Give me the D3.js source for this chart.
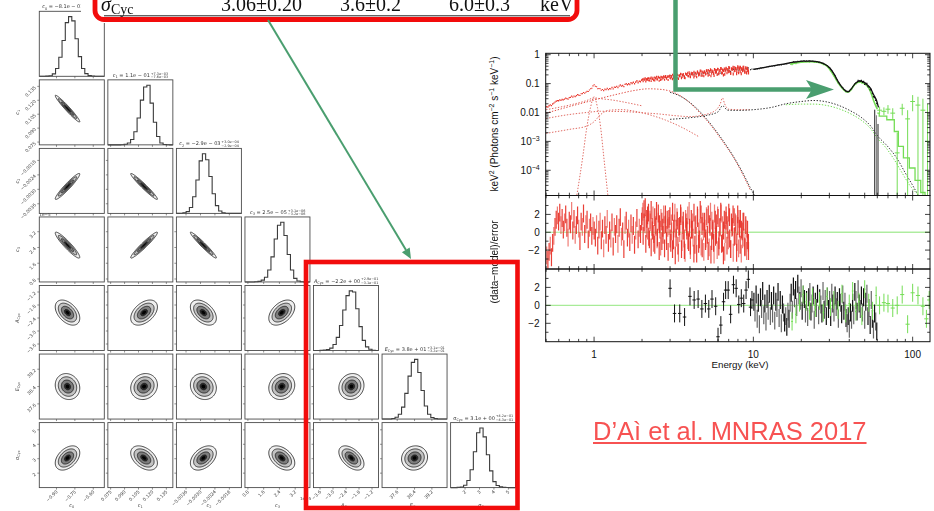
<!DOCTYPE html>
<html><head><meta charset="utf-8">
<script src="https://cdn.jsdelivr.net/npm/d3@7/dist/d3.min.js"></script>
<style>html,body{margin:0;padding:0;background:#fff;}svg{display:block;}</style>
</head><body>
<svg id="fig" width="934" height="511" xmlns="http://www.w3.org/2000/svg"></svg>
<script>
// ================= corner plot: posterior of continuum + cyclotron parameters =================
const parLabels  = [["c","0"],["c","1"],["c","2"],["c","3"],["A","Cyc"],["E","Cyc"],["σ","Cyc"]];
const parDomains = [[-1.04,-0.51],[0.072,0.142],[-0.0040,-0.0013],[0.65,3.95],[-3.9,-0.9],[36.9,39.9],[1.0,5.5]];
const parMeans   = [-0.81,0.111,-0.00288,2.52,-2.15,38.4,3.05];
const parSigmas  = [0.05,0.0072,0.00027,0.33,0.29,0.30,0.42];
const parTicks   = [[-0.90,-0.75,-0.60],[0.075,0.090,0.105,0.120,0.135],[-0.0036,-0.0030,-0.0024,-0.0018],
                    [0.8,1.6,2.4,3.2],[-3.6,-3.0,-2.4,-1.8,-1.2],[37.6,38.4,39.2],[2,3,4,5]];
const parTickFmt = [".2f",".3f",".4f",".1f",".1f",".1f",".0f"];
const parTitleVal = [" = −8.1e − 01"," = 1.1e − 01"," = −2.9e − 03"," = 2.5e − 05"," = −2.2e + 00"," = 3.8e + 01"," = 3.1e + 00"];
const parTitleUp  = ["+4.8e−02","+7.3e−03","+3.0e−04","+3.1e−06","+2.9e−01","+3.1e−01","+4.2e−01"];
const parTitleDn  = ["−5.0e−02","−7.6e−03","−2.9e−04","−3.2e−06","−3.1e−01","−3.2e−01","−4.3e−01"];
// marginal histograms, 20 bins over each parameter range (peak normalised)
const histC0 = [0,0,0.003,0.01,0.04,0.13,0.32,0.6,0.9,1.0,0.93,0.63,0.33,0.13,0.045,0.012,0.004,0.001,0,0];
const histC1 = [0,0,0,0,0.002,0.01,0.03,0.09,0.22,0.45,0.75,0.97,1.0,0.7,0.38,0.14,0.03,0.006,0.001,0];
const histC2 = [0,0.002,0.01,0.03,0.1,0.28,0.56,0.88,1.0,0.9,0.62,0.33,0.13,0.04,0.01,0.003,0,0,0,0];
const histC3 = [0,0,0,0.003,0.01,0.03,0.08,0.2,0.42,0.72,0.95,1.0,0.78,0.46,0.2,0.06,0.015,0.003,0,0];
const histA  = [0,0,0.002,0.006,0.015,0.04,0.1,0.22,0.42,0.68,0.92,1.0,0.98,0.7,0.4,0.17,0.06,0.02,0.005,0.001];
const histE  = [0,0,0.002,0.008,0.03,0.08,0.2,0.43,0.72,0.95,1.0,0.78,0.48,0.22,0.08,0.025,0.007,0.002,0,0];
const histS  = [0,0,0.003,0.01,0.04,0.12,0.3,0.6,0.92,1.0,0.85,0.55,0.28,0.1,0.035,0.012,0.004,0.001,0,0];
// pairwise correlation coefficients (row parameter vs column parameter)
const corrRows = [[-0.97],[0.95,-0.97],[-0.93,0.96,-0.97],[-0.45,0.45,-0.45,0.45],
                  [-0.12,0.12,-0.12,0.12,0.10],[0.42,-0.42,0.42,-0.42,-0.50,0.08]];
const contourSig = [2,1.5,1,0.5,0.3];
const contourFill = ["#efefef","#c2c2c2","#7c7c7c","#2e2e2e","#000"];

// ================= broadband spectrum (keV^2 flux) =================
const redModel   = [[0.5,0.0184],[0.6,0.024],[0.7,0.031],[0.8,0.039],[0.9,0.05],[0.96,0.066],[1.0,0.092],[1.04,0.074],[1.1,0.061],
                    [1.2,0.063],[1.4,0.077],[1.77,0.107],[2.25,0.138],[3.15,0.172],[4.6,0.225],[6.8,0.285],[9.4,0.33]];
const redRelErr  = [[0.5,0.06],[1,0.04],[2,0.07],[5,0.1],[9.4,0.13]];
const blackModel = [[3,0.17],[4,0.2],[6,0.255],[8,0.29],[10,0.31],[12,0.37],[15,0.46],[18,0.55],[20.6,0.6],[23,0.6],[26,0.55],
                    [28.5,0.45],[30.3,0.34],[32,0.22],[34,0.12],[36,0.075],[38,0.056],[39.5,0.053],[41.5,0.07],[43.5,0.1],
                    [46.5,0.125],[49,0.115],[52,0.09],[54.3,0.07],[57,0.04],[59.5,0.025],[61,0.015]];
const greenModel = [[17,0.47],[19,0.53],[21,0.56],[23,0.57],[25,0.55],[27,0.5],[29,0.4],[31,0.25],[33,0.14],[35,0.085],[37,0.06],
                    [39,0.05],[41,0.06],[43,0.09],[45,0.11],[47,0.115],[49,0.105],[51,0.09],[53,0.07],[55,0.045],[57,0.025],[60,0.013]];
const greenStepEdges = [60,61.7,68.8,76.7,81.3,87.5,95.3,103.5,112.4,119.6,128];
const greenStepVals  = [0.0095,0.0075,0.0056,0.0022,0.00067,0.00027,0.00012,4.5e-5,1.7e-5,1.1e-5];
// dotted model components
const compRedA   = [[0.5,0.0095],[0.7,0.016],[1.0,0.027],[1.4,0.043],[1.8,0.058],[2.2,0.066],[2.7,0.062],[3.2,0.048],[3.8,0.027],
                    [4.6,0.01],[5.5,0.0032],[6.5,0.0009],[7.5,0.00028],[8.5,8e-5],[9.6,2e-5]];
const compBlackA = [[3.0,0.05],[3.5,0.036],[4.0,0.022],[4.6,0.011],[5.5,0.0035],[6.5,0.001],[7.5,0.0003],[8.5,9e-5],[9.6,2.4e-5],[10.2,1.3e-5]];
const compRedB   = [[0.5,0.0062],[0.7,0.0085],[0.9,0.010],[1.1,0.011],[1.5,0.0108],[2.0,0.0098],[2.6,0.0088],[3.2,0.0078],[4.0,0.0072],
                    [5.0,0.0085],[5.8,0.012],[6.2,0.02],[6.4,0.032],[6.6,0.02],[7.0,0.013],[8.0,0.0125],[9.5,0.0125]];
const compRedC   = [[0.5,0.0019],[0.7,0.0026],[0.9,0.0034],[1.0,0.0048],[1.1,0.0085],[1.25,0.012],[1.5,0.0125],[1.8,0.011],[2.2,0.0085],[2.8,0.0055],[3.5,0.0032],[4.5,0.0015]];
const compRedD   = [[0.5,0.0125],[0.7,0.018],[0.9,0.026],[1.0,0.032],[1.1,0.03],[1.3,0.027],[1.6,0.022],[2.0,0.017]];
const compGauss  = [[0.78,1.4e-5],[0.85,0.0003],[0.9,0.003],[0.95,0.015],[1.0,0.035],[1.05,0.015],[1.1,0.003],[1.15,0.0003],[1.22,1.4e-5]];
const compBlackC = [[3.0,0.0058],[4,0.0066],[5,0.0078],[6,0.0105],[6.4,0.017],[6.9,0.012],[8,0.0118],[10,0.0125],[13,0.015],[16,0.02],
                    [20,0.024],[24,0.026],[28,0.024],[33,0.019],[40,0.012],[48,0.0065],[55,0.0032],[60,0.0016],[70,0.00065],[80,0.00025],
                    [90,8e-5],[100,3e-5],[108,1.4e-5]];
const compGreenC = [[16,0.0185],[20,0.0195],[24,0.0195],[28,0.018],[33,0.0145],[40,0.0095],[48,0.0052],[55,0.0026],[60,0.0013],
                    [68,0.0006],[76,0.00025],[86,8e-5],[96,3e-5],[112,1.2e-5]];
// residuals, (data-model)/error
const redRes = [-2.6,-3.1,-2.2,-1.5,-2.8,-1.2,-0.4,0.6,1.4,1.9,1.2,
 2.2,0.8,1.6,0.3,1.1,2.0,0.5,-0.6,1.3,0.9,2.4,0.2,1.5,-0.3,0.8,1.9,0.4,-1.0,1.2,0.6,2.1,-0.2,0.9,1.4,-0.8,0.5,1.1,-0.4,0.7,0.2,
 -0.6,0.9,-1.5,0.3,1.2,-0.9,0.4,-1.8,0.8,-0.3,1.5,-1.2,0.2,-0.7,1.1,-1.6,0.6,-0.2,0.9,-1.3,0.5,1.7,-0.5,0.1,-1.9,0.8,1.3,-0.6,0.4,-1.1,1.0,-0.3,0.7,-1.4,0.2,1.6,-0.8,0.5,-0.2,1.2,
 2.3,1.1,2.8,0.4,1.9,-0.5,1.4,2.5,0.2,-1.2,1.7,0.6,-0.8,2.1,0.9,-1.6,1.2,-0.3,0.8,2.0,-1.0,0.5,1.5,-0.7,
 1.0,-1.9,0.4,2.2,-0.6,1.3,-2.3,0.7,1.8,-1.1,0.2,-2.0,1.5,0.6,-0.9,2.4,-1.5,0.3,1.1,-2.4,0.8,-0.4,1.9,-1.3,0.5,2.0,-1.8,0.1,1.2,
 -0.7,1.6,-2.1,0.9,2.3,-1.0,0.4,-2.5,1.4,-0.3,1.9,-1.6,0.6,2.1,-1.2,0.2,-2.2,1.3,0.8,-0.9,1.7,-1.9,0.5,2.0,-0.5,1.1,-2.3,0.7,1.5,-1.4,0.3,-0.8,1.2,-1.7,0.4,-0.9,-2.1];
const redResRange = [0.5,9.4];
// second (interleaved) set of red channels, 2.0-9.4 keV
const redResHi = [1.8,-0.4,2.6,0.9,-1.3,1.5,0.2,2.2,-0.8,1.1,-1.7,0.6,1.9,-0.2,-1.4,0.8,2.4,-0.6,1.2,-2.1,0.3,1.6,-1.0,0.5,2.0,-1.8,0.9,-0.3,1.4,-2.2,
 0.7,1.8,-1.2,0.1,2.3,-0.9,1.0,-2.6,0.4,1.7,-1.5,0.6,-0.1,2.1,-1.9,0.8,1.3,-0.7,-2.3,1.1,0.2,1.9,-1.1,0.5,-2.0,1.5,0.3,-0.6,2.2,-1.4,
 0.9,-2.4,1.6,0.1,-0.8,2.5,-1.6,0.7,1.2,-2.2,0.4,-1.0,1.8,-0.3,2.0,-1.7,0.6,-2.5,1.3,0.2,-1.2,2.1,-0.5,1.0,-2.0,1.6,-0.9,0.5,2.3,-1.3,
 0.8,-2.6,1.4,-0.2,1.9,-1.5,0.3,2.2,-0.7,-1.9,1.1,0.6,-2.3,1.7,-0.4,0.9,-1.1,2.0,-1.8,0.4,1.5,-2.4,0.1,1.2,-0.6,-1.6,0.8,-2.1,0.3,-1.2];
const redResHiRange = [2.0,9.4];
const blackLow = [[3.0,1.9],[3.2,-0.9],[3.45,-0.9],[3.7,-1.3],[4.0,1.0],[4.25,0.6],[4.5,0.7],[4.75,-0.4],[5.0,0.2],[5.25,-0.4],[5.5,0.7],
 [5.8,-0.1],[6.0,-3.5],[6.25,-2.2],[6.5,0.4],[6.7,1.7],[6.95,1.7],[7.2,-1.0],[7.5,2.3],[7.8,1.9],[8.1,0.1],[8.4,0.8],[8.7,0.2],[9.0,1.7],[9.3,2.9],[9.6,-0.2],[9.8,0.6]];
const blackHi = [0.4,-0.8,1.2,-1.5,0.3,-2.1,0.9,-0.4,1.6,-1.1,0.2,-1.8,0.7,-0.6,1.3,-1.2,0.5,
 -0.9,1.1,-1.7,0.4,-0.3,1.5,-1.4,0.6,-2.0,0.1,-0.8,-1.9,-1.2,-2.4,-0.7,-1.5,
 0.3,1.4,-0.5,2.1,0.8,1.7,-0.2,2.4,1.1,0.5,1.9,-0.6,1.2,0.7,-0.9,
 0.6,-1.3,0.9,1.5,-0.7,0.2,1.1,-1.6,0.4,-0.3,1.3,-1.1,0.8,0.1,-0.9,1.6,-0.5,0.7,-1.2,
 1.0,-0.4,0.6,-1.3,1.4,0.2,-0.8,1.1,-0.2,0.5,-1.5,0.9,0.3,-1.0,1.2,-0.6,0.4,-1.4,
 -2.0,-1.2,-2.6,-0.8,-1.6,0.3,-1.1,1.5,0.6,-0.7,1.8,0.2,-0.4,1.1,
 -0.8,0.9,-1.6,0.4,1.3,-1.2,-0.3,-2.2,0.6,-1.5,-2.7,-0.9,-1.8,-2.9];
const blackHiRange = [10,60];
const blackDrop = [[57.8,0.0125],[59.2,0.008],[60.6,0.004]];
const greenRes = [[17.5,-1.8],[18.5,-1.0],[19.5,0.3],[20.5,1.2],[21.5,0.4],[22.5,-0.6],[23.5,0.9],[24.5,-0.3],[26,0.5],[27.5,-0.8],[29,1.0],
 [30.5,-0.2],[32,0.6],[34,-0.5],[36,1.3],[38,-0.9],[40,0.2],[42,1.6],[44,-0.7],[46,0.4],[48,-1.2],[50,1.8],[53,0.3],[56,-0.6],[59,1.1],
 [62,0.0],[66,0.3],[70,0.2],[75,-0.3],[80,0.0],[86,1.2],[93,-2.1],[100,1.4],[108,1.1],[116,-0.1],[122,-1.5],[127,0.6]];
const greenHi = [[62,0.012,0.009,0.016],[66,0.011,0.008,0.015],[70,0.013,0.009,0.018],[75,0.0095,0.006,0.014],[80,0.0004,1e-5,0.002],
 [86,0.014,0.008,0.02],[93,0.006,1e-5,0.012],[100,0.024,0.011,0.04],[108,0.018,1e-5,0.035],[116,0.012,1e-5,0.03],[124,0.001,1e-5,0.02]];

const yTickLabels = [[1,"1"],[0.1,"0.1"],[0.01,"0.01"],[1e-3,"10","−3"],[1e-4,"10","−4"]];
const xTickLabels = [[1,"1"],[10,"10"],[100,"100"]];
const resTicks = [-2,0,2];

// ======================================================================
const svg = d3.select("#fig");
const SANS = "'Liberation Sans', Arial, Helvetica, sans-serif";

// ---------------- corner plot ----------------
const gC = svg.append("g").attr("font-family","'DejaVu Sans', sans-serif").attr("opacity",0.995);
const NP = parLabels.length;
const cX0 = 39.3, cY0 = 11.3, cStep = 68.55, cSide = 65;
const xs = parDomains.map((d,j)=>d3.scaleLinear().domain(d).range([cX0+j*cStep, cX0+j*cStep+cSide]));
const ys = parDomains.map((d,i)=>d3.scaleLinear().domain(d).range([cY0+i*cStep+cSide, cY0+i*cStep]));
const hists = [histC0,histC1,histC2,histC3,histA,histE,histS];

function labelText(sel, lab, size){
  sel.append("tspan").text(lab[0]).attr("font-style", lab[0]==="σ" ? "normal" : "italic");
  sel.append("tspan").text(lab[1]).attr("font-size", size*0.7).attr("dy", size*0.25);
}

for (let i=0;i<NP;i++){
  for (let j=0;j<=i;j++){
    const x0 = cX0+j*cStep, y0 = cY0+i*cStep;
    const g = gC.append("g");
    if (i===j){
      const counts = hists[i];
      const [d0,d1] = parDomains[i];
      const nb = counts.length, bw = (d1-d0)/nb;
      const hy = d3.scaleLinear().domain([0,1.09]).range([y0+cSide, y0]);
      const pts = counts.map((c,k)=>[d0+k*bw, c]);
      pts.push([d1, counts[nb-1]]);
      g.append("path").attr("d", d3.line().curve(d3.curveStepAfter).x(p=>xs[i](p[0])).y(p=>hy(p[1]))(pts))
        .attr("fill","none").attr("stroke","#3a3a3a").attr("stroke-width",1.1);
      // title with asymmetric errors
      const t = gC.append("text").attr("font-size",5).attr("y", y0-3).attr("fill","#333");
      labelText(t, parLabels[i], 5);
      t.append("tspan").text(parTitleVal[i]).attr("dy",-1.25);
      const wMain = t.node().getComputedTextLength();
      const total = wMain + 18;
      const tx = x0 + cSide/2 - total/2;
      t.attr("x", tx);
      gC.append("text").attr("font-size",3.4).attr("x", tx+wMain+0.8).attr("y", y0-5.2).attr("fill","#333").text(parTitleUp[i]);
      gC.append("text").attr("font-size",3.4).attr("x", tx+wMain+0.8).attr("y", y0-1.6).attr("fill","#333").text(parTitleDn[i]);
    } else {
      const rho = corrRows[i-1][j];
      const ring = (k)=> d3.range(0,360,5).map(a=>{
        const t=a*Math.PI/180, u=Math.cos(t), v=Math.sin(t);
        return [xs[j](parMeans[j]+k*parSigmas[j]*u),
                ys[i](parMeans[i]+k*parSigmas[i]*(rho*u+Math.sqrt(1-rho*rho)*v))];
      });
      contourSig.forEach((k,n)=>{
        g.append("path").attr("d", d3.line().curve(d3.curveCardinalClosed)(ring(k)))
          .attr("fill", contourFill[n]).attr("stroke", n<4 ? "#111" : "none").attr("stroke-width",0.75);
      });
      // left ticks
      parTicks[i].forEach(tv=>{
        g.append("line").attr("x1",x0).attr("x2",x0-2).attr("y1",ys[i](tv)).attr("y2",ys[i](tv)).attr("stroke","#444").attr("stroke-width",0.6);
      });
    }
    g.append("rect").attr("x",x0).attr("y",y0).attr("width",cSide).attr("height",cSide)
      .attr("fill","none").attr("stroke","#4a4a4a").attr("stroke-width",0.9);
    parTicks[j].forEach(tv=>{
      g.append("line").attr("x1",xs[j](tv)).attr("x2",xs[j](tv)).attr("y1",y0+cSide).attr("y2",y0+cSide+2).attr("stroke","#444").attr("stroke-width",0.6);
    });
    if (i===NP-1){
      const f = d3.format(parTickFmt[j]);
      parTicks[j].forEach(tv=>{
        gC.append("text").attr("font-size",4.6).attr("fill","#444").attr("text-anchor","end")
          .attr("transform",`translate(${xs[j](tv)+1.5},${y0+cSide+4.5}) rotate(-45)`).text(f(tv));
      });
      const xl = gC.append("text").attr("font-size",5).attr("fill","#444").attr("text-anchor","middle")
        .attr("x", x0+cSide/2).attr("y", 507);
      labelText(xl, parLabels[j], 5);
    }
    if (j===0 && i>0){
      const f = d3.format(parTickFmt[i]);
      parTicks[i].forEach(tv=>{
        gC.append("text").attr("font-size",4.6).attr("fill","#444").attr("text-anchor","end")
          .attr("transform",`translate(${x0-3},${ys[i](tv)+1.5}) rotate(-45)`).text(f(tv));
      });
      const yl = gC.append("text").attr("font-size",5).attr("fill","#444").attr("text-anchor","middle")
        .attr("transform",`translate(19,${y0+cSide/2}) rotate(-90)`);
      labelText(yl, parLabels[i], 5);
    }
  }
}
gC.append("text").attr("font-size",4.2).attr("fill","#444").attr("x",cX0).attr("y",cY0+3*cStep-1).text("1e−5");
gC.append("text").attr("font-size",4.2).attr("fill","#444").attr("x",cX0+3*cStep+cSide-10).attr("y",500).text("1e−5");

// ---------------- spectrum ----------------
const gS = svg.append("g").attr("font-family", SANS);
const pL = 545.7, pR = 930, pTop = 53.3, pB1 = 195.5, pB2 = 269, pB3 = 341.7;
const xE  = d3.scaleLog().domain([0.497,128.5]).range([pL,pR]);
const yF  = d3.scaleLog().domain([1.34e-5,1.117]).range([pB1,pTop]);
const yR1 = d3.scaleLinear().domain([-4.12,4.12]).range([pB2,pB1]);
const yR2 = d3.scaleLinear().domain([-4.05,4.05]).range([pB3,pB2]);

const defs = svg.append("defs");
[["clipTop",pTop,pB1],["clipR1",pB1,pB2],["clipR2",pB2,pB3]].forEach(([id,a,b])=>{
  defs.append("clipPath").attr("id",id).append("rect").attr("x",pL).attr("y",a).attr("width",pR-pL).attr("height",b-a);
});

function logInterp(arr, E){
  if (E<=arr[0][0]) return arr[0][1];
  for (let k=1;k<arr.length;k++){
    if (E<=arr[k][0]){
      const [e0,v0]=arr[k-1],[e1,v1]=arr[k];
      const f=(Math.log(E)-Math.log(e0))/(Math.log(e1)-Math.log(e0));
      return Math.exp(Math.log(v0)+f*(Math.log(v1)-Math.log(v0)));
    }
  }
  return arr[arr.length-1][1];
}
const RED = "#e8352b", GREEN = "#74dd55", LGREEN="#a8eb98";

// channel grids of the binned residual arrays (logarithmic bins)
const gridE = (range, n, off)=> d3.range(n).map(k=>range[0]*Math.pow(range[1]/range[0], (k+off)/n));
const redChannels = gridE(redResRange, redRes.length, 0.5).map((E,k)=>[E, redRes[k]])
  .concat(gridE(redResHiRange, redResHi.length, 0.25).map((E,k)=>[E, redResHi[k]]));
const blackE = gridE(blackHiRange, blackHi.length, 0.5);

// --- top panel
const gT = gS.append("g").attr("clip-path","url(#clipTop)");
const lineLL = d3.line().x(d=>xE(d[0])).y(d=>yF(d[1])).curve(d3.curveMonotoneX);
function dotted(arr,col){ gT.append("path").attr("d",lineLL(arr)).attr("fill","none").attr("stroke",col).attr("stroke-width",1).attr("stroke-dasharray","1.4,1.6"); }
dotted(compRedC,"#e06a62"); dotted(compRedD,"#e06a62"); dotted(compRedB,"#e06a62"); dotted(compGauss,"#e06a62");
dotted(compRedA,"#e05048"); dotted(compBlackA,"#333"); dotted(compBlackC,"#333"); dotted(compGreenC,GREEN);

// black data 3-10 keV (under the red band)
blackLow.forEach(([E,r])=>{
  const m=logInterp(blackModel,E), v=m*(1+r*0.05);
  gT.append("line").attr("x1",xE(E)).attr("x2",xE(E)).attr("y1",yF(v*0.95)).attr("y2",yF(v*1.05)).attr("stroke","#222");
});
// green data + model
greenRes.filter(d=>d[0]<60).forEach(([E,r])=>{
  const m=logInterp(greenModel,E), v=m*(1+r*0.04);
  gT.append("line").attr("x1",xE(E)).attr("x2",xE(E)).attr("y1",yF(v*0.95)).attr("y2",yF(v*1.05)).attr("stroke",GREEN).attr("stroke-width",1.2);
});
gT.append("path").attr("d",lineLL(greenModel)).attr("fill","none").attr("stroke",GREEN).attr("stroke-width",1.6);
const stepPts = greenStepVals.map((v,k)=>[greenStepEdges[k],v]); stepPts.push([greenStepEdges[greenStepEdges.length-1],greenStepVals[greenStepVals.length-1]]);
gT.append("path").attr("d",d3.line().curve(d3.curveStepAfter).x(d=>xE(d[0])).y(d=>yF(d[1]))(stepPts))
  .attr("fill","none").attr("stroke",GREEN).attr("stroke-width",1.3);
greenHi.forEach(([E,v,lo,hi])=>{
  gT.append("line").attr("x1",xE(E)).attr("x2",xE(E)).attr("y1",yF(lo)).attr("y2",yF(hi)).attr("stroke",GREEN).attr("stroke-width",1);
  gT.append("line").attr("x1",xE(E*0.965)).attr("x2",xE(E*1.035)).attr("y1",yF(v)).attr("y2",yF(v)).attr("stroke",GREEN).attr("stroke-width",1);
});
// black data 10-60 keV
blackE.forEach((E,k)=>{
  const m=logInterp(blackModel,E), rel = E<45?0.025:0.06, v=m*(1+blackHi[k]*rel);
  gT.append("line").attr("x1",xE(E)).attr("x2",xE(E)).attr("y1",yF(v*(1-rel))).attr("y2",yF(v*(1+rel))).attr("stroke","#111").attr("stroke-width",1.2);
});
blackDrop.forEach(([E,v],k)=>{
  gT.append("line").attr("x1",xE(E)).attr("x2",xE(E)).attr("y1",yF(1.3e-5)).attr("y2",yF(v)).attr("stroke",k===1?"#777":"#222").attr("stroke-width",1);
});
gT.append("path").attr("d",lineLL(blackModel.filter(d=>d[0]>=9.4))).attr("fill","none").attr("stroke","#111").attr("stroke-width",1.3);
// red data band
redChannels.forEach(([E,r])=>{
  const m=logInterp(redModel,E), rel=logInterp(redRelErr,E), v=m*(1+r*rel);
  gT.append("line").attr("x1",xE(E)).attr("x2",xE(E)).attr("y1",yF(v*(1-rel))).attr("y2",yF(v*(1+rel))).attr("stroke",RED).attr("stroke-width",1.2);
});

// --- residual panel 1 (red)
const gR1 = gS.append("g").attr("clip-path","url(#clipR1)");
gR1.append("line").attr("x1",pL).attr("x2",pR).attr("y1",yR1(0)).attr("y2",yR1(0)).attr("stroke",LGREEN).attr("stroke-width",1.2);
redChannels.forEach(([E,r],k)=>{
  gR1.append("line").attr("x1",xE(E)).attr("x2",xE(E)).attr("y1",yR1(r-1)).attr("y2",yR1(r+1))
    .attr("stroke",RED).attr("stroke-width",1.2).attr("stroke-opacity", k%3===0?0.65:0.95);
});
gR1.append("line").attr("x1",xE(9.4)).attr("x2",pR).attr("y1",yR1(0)).attr("y2",yR1(0)).attr("stroke",LGREEN).attr("stroke-width",1.2);

// --- residual panel 2 (black + green)
const gR2 = gS.append("g").attr("clip-path","url(#clipR2)");
gR2.append("line").attr("x1",pL).attr("x2",pR).attr("y1",yR2(0)).attr("y2",yR2(0)).attr("stroke",LGREEN).attr("stroke-width",1.2);
blackLow.forEach(([E,r])=>{
  gR2.append("line").attr("x1",xE(E)).attr("x2",xE(E)).attr("y1",yR2(r-1)).attr("y2",yR2(r+1)).attr("stroke","#111");
  gR2.append("line").attr("x1",xE(E*0.975)).attr("x2",xE(E*1.025)).attr("y1",yR2(r)).attr("y2",yR2(r)).attr("stroke","#111");
});
blackE.forEach((E,k)=>{
  const r=blackHi[k];
  gR2.append("line").attr("x1",xE(E)).attr("x2",xE(E)).attr("y1",yR2(r-1)).attr("y2",yR2(r+1))
    .attr("stroke", k%2? "#666":"#111").attr("stroke-width",1.2);
});
greenRes.forEach(([E,r])=>{
  const hw = E>60 ? 0.03 : 0.012;
  gR2.append("line").attr("x1",xE(E)).attr("x2",xE(E)).attr("y1",yR2(r-1)).attr("y2",yR2(r+1)).attr("stroke",GREEN);
  gR2.append("line").attr("x1",xE(E*(1-hw))).attr("x2",xE(E*(1+hw))).attr("y1",yR2(r)).attr("y2",yR2(r)).attr("stroke",GREEN);
});

// --- frames and ticks
const xMinor = [];
[0.1,1,10,100].forEach(dec=>d3.range(1,10).forEach(m=>{const v=dec*m; if(v>=0.497&&v<=128.5) xMinor.push(v);}));
[[pTop,pB1],[pB1,pB2],[pB2,pB3]].forEach(([a,b])=>{
  gS.append("rect").attr("x",pL).attr("y",a).attr("width",pR-pL).attr("height",b-a).attr("fill","none").attr("stroke","#111").attr("stroke-width",1);
  xMinor.forEach(v=>{
    const major = [1,10,100].includes(v), L = major?5:2.8;
    gS.append("line").attr("x1",xE(v)).attr("x2",xE(v)).attr("y1",a).attr("y2",a+L).attr("stroke","#111").attr("stroke-width",0.8);
    gS.append("line").attr("x1",xE(v)).attr("x2",xE(v)).attr("y1",b).attr("y2",b-L).attr("stroke","#111").attr("stroke-width",0.8);
  });
});
const yMinor = [];
[1e-5,1e-4,1e-3,1e-2,1e-1,1].forEach(dec=>d3.range(1,10).forEach(m=>{const v=dec*m; if(v>=1.34e-5&&v<=1.117) yMinor.push([v,m===1]);}));
yMinor.forEach(([v,major])=>{
  const L=major?5:2.8;
  gS.append("line").attr("x1",pL).attr("x2",pL+L).attr("y1",yF(v)).attr("y2",yF(v)).attr("stroke","#111").attr("stroke-width",0.8);
  gS.append("line").attr("x1",pR).attr("x2",pR-L).attr("y1",yF(v)).attr("y2",yF(v)).attr("stroke","#111").attr("stroke-width",0.8);
});
[[yR1],[yR2]].forEach(([sc])=>{
  [-3,-2,-1,0,1,2,3].forEach(v=>{
    const L = v%2===0?5:2.8;
    gS.append("line").attr("x1",pL).attr("x2",pL+L).attr("y1",sc(v)).attr("y2",sc(v)).attr("stroke","#111").attr("stroke-width",0.8);
    gS.append("line").attr("x1",pR).attr("x2",pR-L).attr("y1",sc(v)).attr("y2",sc(v)).attr("stroke","#111").attr("stroke-width",0.8);
  });
  resTicks.forEach(v=>{
    gS.append("text").attr("x",pL-6).attr("y",sc(v)+3.6).attr("text-anchor","end").attr("font-size",10).attr("fill","#111")
      .text(v<0?"−"+Math.abs(v):String(v));
  });
});
yTickLabels.forEach(d=>{
  const t = gS.append("text").attr("x",pL-6).attr("y",yF(d[0])+3.6).attr("text-anchor","end").attr("font-size",10).attr("fill","#111");
  t.append("tspan").text(d[1]);
  if (d[2]) t.append("tspan").text(d[2]).attr("font-size",7).attr("dy",-4);
});
xTickLabels.forEach(([v,s])=>{
  gS.append("text").attr("x",xE(v)).attr("y",pB3+15.8).attr("text-anchor","middle").attr("font-size",10).attr("fill","#111").text(s);
});
gS.append("text").attr("x",740).attr("y",pB3+26).attr("text-anchor","middle").attr("font-size",9.8).attr("fill","#111").text("Energy (keV)");
const yl1 = gS.append("text").attr("text-anchor","middle").attr("font-size",10).attr("fill","#111")
  .attr("transform","translate(498,124) rotate(-90)");
yl1.append("tspan").text("keV");
yl1.append("tspan").text("2").attr("font-size",7).attr("dy",-4);
yl1.append("tspan").text(" (Photons cm").attr("dy",4);
yl1.append("tspan").text("−2").attr("font-size",7).attr("dy",-4);
yl1.append("tspan").text(" s").attr("dy",4);
yl1.append("tspan").text("−1").attr("font-size",7).attr("dy",-4);
yl1.append("tspan").text(" keV").attr("dy",4);
yl1.append("tspan").text("−1").attr("font-size",7).attr("dy",-4);
yl1.append("tspan").text(")").attr("dy",4);
gS.append("text").attr("text-anchor","middle").attr("font-size",10).attr("fill","#111")
  .attr("transform","translate(498,262) rotate(-90)").text("(data−model)/error");

// ---------------- fit-results table strip ----------------
const gTab = svg.append("g").attr("font-family","'Liberation Serif', 'Times New Roman', serif");
gTab.append("rect").attr("x",81).attr("y",0).attr("width",500).attr("height",23).attr("fill","#fff");
gTab.append("line").attr("x1",104).attr("x2",570).attr("y1",15.8).attr("y2",15.8).attr("stroke","#222").attr("stroke-width",1);
const sig = gTab.append("text").attr("x",101).attr("y",11).attr("font-size",20).attr("font-style","italic").attr("fill","#111");
sig.append("tspan").text("σ");
sig.append("tspan").text("Cyc").attr("font-size",14).attr("font-style","normal").attr("dy",3);
[["3.06±0.20",221],["3.6±0.2",340],["6.0±0.3",449],["keV",540]].forEach(([s,x])=>{
  gTab.append("text").attr("x",x).attr("y",11).attr("font-size",20).attr("fill","#111").text(s);
});
gTab.append("rect").attr("x",95).attr("y",-30).attr("width",482).attr("height",49.5).attr("rx",9)
  .attr("fill","none").attr("stroke","#f20c0c").attr("stroke-width",4.8);

// ---------------- annotations ----------------
const ARW = "#4a9e6f";
svg.append("rect").attr("x",306).attr("y",262).attr("width",211.5).attr("height",246).attr("fill","none")
  .attr("stroke","#f20c0c").attr("stroke-width",4.6);
svg.append("path").attr("d","M675.5,0 V89.5 H812").attr("fill","none").attr("stroke",ARW).attr("stroke-width",4.5);
svg.append("path").attr("d","M806,80 L834,89.5 L806,99 L812,89.5 Z").attr("fill",ARW);
svg.append("line").attr("x1",268).attr("y1",20).attr("x2",406).attr("y2",250).attr("stroke",ARW).attr("stroke-width",2);
svg.append("path").attr("d","M411,259 L401.9,252.2 L409.7,247.6 Z").attr("fill",ARW);

const cite = svg.append("text").attr("x",593).attr("y",440).attr("font-family",SANS).attr("font-size",25.5)
  .attr("fill","#f75252").text("D’Aì et al. MNRAS 2017");
const cw = cite.node().getComputedTextLength();
svg.append("line").attr("x1",593).attr("x2",593+cw).attr("y1",443).attr("y2",443).attr("stroke","#f75252").attr("stroke-width",2);
</script>
</body></html>
